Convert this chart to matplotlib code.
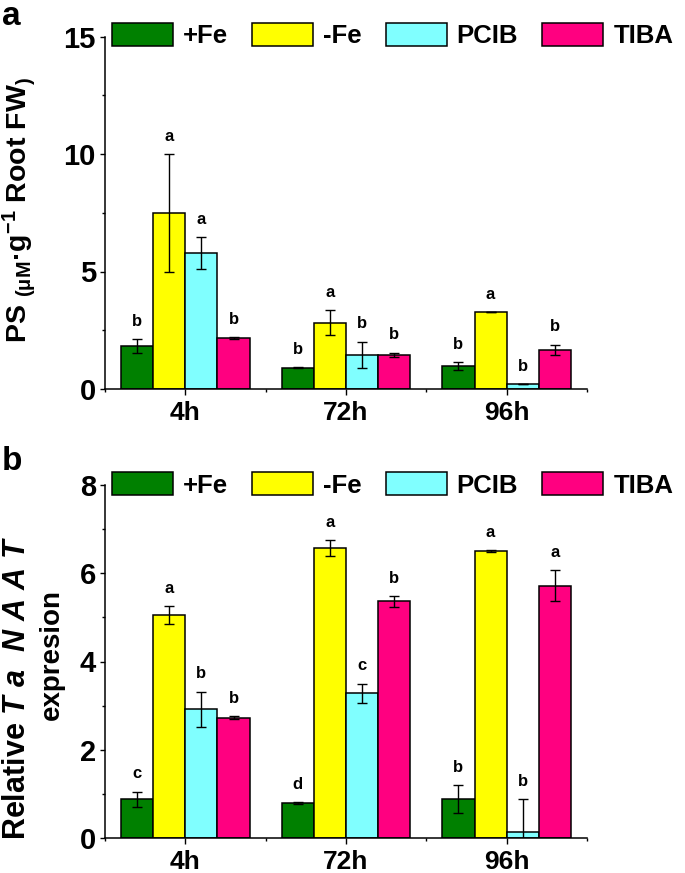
import matplotlib
matplotlib.use("Agg")
import matplotlib.pyplot as plt
import numpy as np

plt.rcParams['font.family'] = ['Liberation Sans', 'DejaVu Sans']
plt.rcParams['font.weight'] = 'bold'
plt.rcParams['mathtext.fontset'] = 'custom'
plt.rcParams['mathtext.rm'] = 'Liberation Sans:bold'
plt.rcParams['mathtext.bf'] = 'Liberation Sans:bold'
plt.rcParams['mathtext.it'] = 'Liberation Sans:italic:bold'
plt.rcParams['mathtext.default'] = 'bf'

groups = ['4h', '72h', '96h']
series = ['+Fe', '-Fe', 'PCIB', 'TIBA']
colors = ['#008000', '#FFFF00', '#80FFFF', '#FF0080']

# Panel a: PS
ps_mean = {
    '+Fe':  [1.83, 0.91, 0.98],
    '-Fe':  [7.50, 2.82, 3.26],
    'PCIB': [5.80, 1.45, 0.21],
    'TIBA': [2.17, 1.45, 1.66],
}
ps_err = {
    '+Fe':  [0.30, 0.02, 0.16],
    '-Fe':  [2.50, 0.53, 0.00],
    'PCIB': [0.68, 0.57, 0.00],
    'TIBA': [0.05, 0.10, 0.23],
}
ps_letters = {
    '+Fe':  ['b', 'b', 'b'],
    '-Fe':  ['a', 'a', 'a'],
    'PCIB': ['a', 'b', 'b'],
    'TIBA': ['b', 'b', 'b'],
}

# Panel b: TaNAAT expression
naat_mean = {
    '+Fe':  [0.88, 0.79, 0.88],
    '-Fe':  [5.06, 6.58, 6.51],
    'PCIB': [2.92, 3.28, 0.13],
    'TIBA': [2.73, 5.36, 5.72],
}
naat_err = {
    '+Fe':  [0.17, 0.02, 0.32],
    '-Fe':  [0.20, 0.18, 0.02],
    'PCIB': [0.40, 0.22, 0.75],
    'TIBA': [0.04, 0.12, 0.36],
}
naat_letters = {
    '+Fe':  ['c', 'd', 'b'],
    '-Fe':  ['a', 'a', 'a'],
    'PCIB': ['b', 'c', 'b'],
    'TIBA': ['b', 'b', 'a'],
}

W, H = 685, 873
fig = plt.figure(figsize=(W / 100, H / 100), dpi=100)

ax_a = fig.add_axes([105 / W, 1 - 389 / H, 482 / W, 352.5 / H])
ax_b = fig.add_axes([105 / W, 1 - 838 / H, 482 / W, 353 / H])

bar_w = 0.2
x = np.arange(len(groups))

LEG_FS = 18.5
fs_px = LEG_FS * 100 / 72


def draw(ax, means, errs, letters, ylim, major, minor, legend_y):
    handles = []
    for i, s in enumerate(series):
        xs = x + (i - 1.5) * bar_w
        b = ax.bar(xs, means[s], width=bar_w, color=colors[i], edgecolor='black',
                   linewidth=1.1, label=s, zorder=2)
        handles.append(b)
        ax.errorbar(xs, means[s], yerr=errs[s], fmt='none', ecolor='black',
                    elinewidth=1.0, capsize=3.6, capthick=1.0, zorder=3)
        for xx, m, e, t in zip(xs, means[s], errs[s], letters[s]):
            ax.annotate(t, xy=(xx, m + e), xytext=(0, 9.5), textcoords='offset points',
                        ha='center', va='baseline', fontsize=12, fontweight='bold')
    ax.set_xlim(-0.5, 2.5)
    ax.set_ylim(*ylim)
    ax.spines['top'].set_visible(False)
    ax.spines['right'].set_visible(False)
    for sp in ('left', 'bottom'):
        ax.spines[sp].set_linewidth(1.1)
    ax.set_yticks(major)
    ax.set_yticks(minor, minor=True)
    ax.set_xticks(x)
    ax.set_xticklabels(groups)
    ax.set_xticks([-0.5, 0.5, 1.5, 2.5], minor=True)
    ax.tick_params(axis='y', which='major', direction='out', length=3.6, width=1.0,
                   labelsize=21, pad=3)
    ax.tick_params(axis='y', which='minor', direction='out', length=2.2, width=1.0)
    ax.tick_params(axis='x', which='major', direction='out', length=4.3, width=1.0,
                   labelsize=19, pad=4)
    ax.tick_params(axis='x', which='minor', direction='out', length=2.5, width=1.0)
    for lab in ax.get_xticklabels() + ax.get_yticklabels():
        lab.set_fontweight('bold')
    ax.legend(handles=handles, loc='center left',
              bbox_to_anchor=(112 / W, 1 - legend_y / H), bbox_transform=fig.transFigure,
              ncol=4, frameon=False, borderpad=0, borderaxespad=0,
              handlelength=61 / fs_px, handleheight=25 / fs_px,
              handletextpad=10 / fs_px, columnspacing=24 / fs_px,
              prop={'size': LEG_FS, 'weight': 'bold'})


draw(ax_a, ps_mean, ps_err, ps_letters, (0, 15), [0, 5, 10, 15], [2.5, 7.5, 12.5], 35.5)
draw(ax_b, naat_mean, naat_err, naat_letters, (0, 8), [0, 2, 4, 6, 8], [1, 3, 5, 7], 485)

# y labels
fig.text(19 / W, 1 - 210 / H, r"PS $_{(μM}$·g$^{-1}$ Root FW$_{)}$", rotation=90,
         ha='center', va='center', fontsize=20.5, fontweight='bold')
fig.text(17 / W, 1 - 688 / H, r"Relative $\mathit{T\ a\ \ N\ A\ A\ T}$", rotation=90,
         ha='center', va='center', fontsize=22, fontweight='bold')
fig.text(52 / W, 1 - 655 / H, "expresion", rotation=90,
         ha='center', va='center', fontsize=20, fontweight='bold')

# panel letters
fig.text(2 / W, 1 - 25 / H, "a", ha='left', va='baseline', fontsize=24, fontweight='bold')
fig.text(2 / W, 1 - 470 / H, "b", ha='left', va='baseline', fontsize=24, fontweight='bold')

fig.savefig("out.png", dpi=100)
